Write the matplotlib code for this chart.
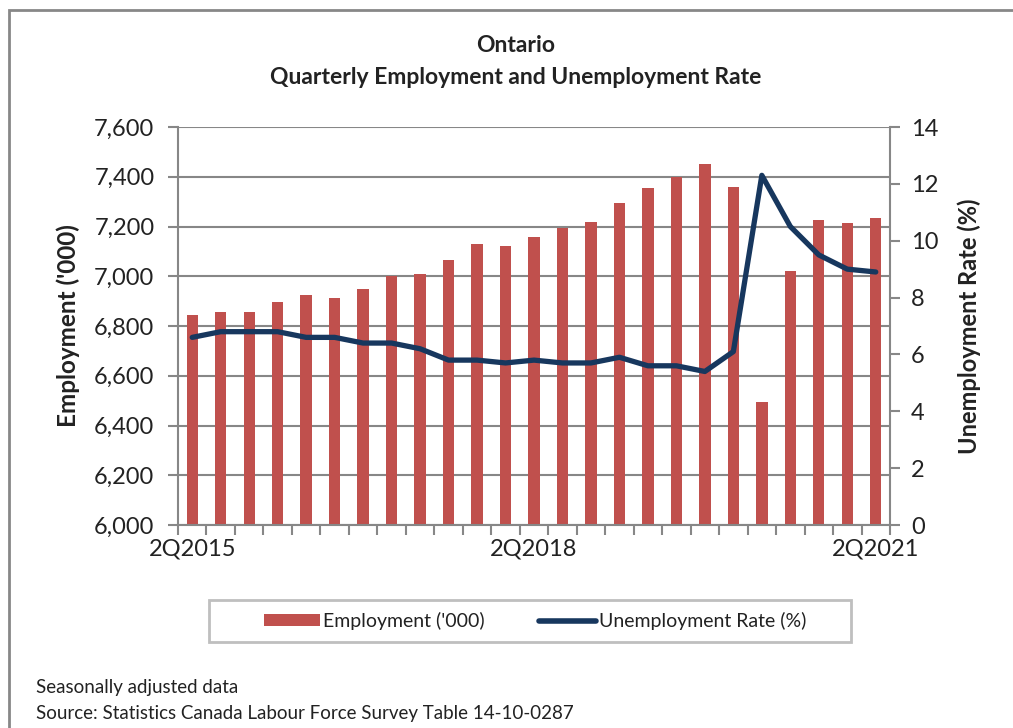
import matplotlib.pyplot as plt
from matplotlib.patches import Rectangle, Patch
from matplotlib.lines import Line2D
from matplotlib.ticker import FuncFormatter, FixedLocator

plt.rcParams["font.family"] = ["Lato", "DejaVu Sans"]

# quarterly series, 2Q2015 .. 2Q2021
quarters = [f"{(q % 4) + 1}Q{2015 + (q + 1) // 4}" for q in range(1, 26)]
employment = [6843, 6858, 6858, 6898, 6924, 6914, 6949, 6999, 7009, 7066,
              7130, 7120, 7157, 7195, 7218, 7293, 7353, 7399, 7450, 7359,
              6494, 7020, 7227, 7213, 7233]
unemp_rate = [6.6, 6.8, 6.8, 6.8, 6.6, 6.6, 6.4, 6.4, 6.2, 5.8,
              5.8, 5.7, 5.8, 5.7, 5.7, 5.9, 5.6, 5.6, 5.4, 6.1,
              12.3, 10.5, 9.5, 9.0, 8.9]
shown_labels = ["2Q2015", "2Q2018", "2Q2021"]

BAR = "#C0504D"
LINE = "#17375E"
GRID = "#878787"
TXT = "#222222"

W, H = 1013, 728
fig = plt.figure(figsize=(W / 100, H / 100), dpi=100)

# chart-area border (runs off the right and bottom edges)
fig.patches.append(Rectangle((9 / W, -0.05), 1.1, 1 - 10 / H + 0.05,
                             transform=fig.transFigure, fill=False,
                             edgecolor=GRID, linewidth=2))

ax = fig.add_axes([178 / W, 1 - 525 / H, (890 - 178) / W, (525 - 127) / H])
x = list(range(len(quarters)))
ax.bar(x, employment, width=0.4, color=BAR, zorder=2)
ax.set_ylim(6000, 7600)
ax.set_xlim(-0.5, len(quarters) - 0.5)
ax.set_yticks(range(6000, 7601, 200))
ax.yaxis.set_major_formatter(FuncFormatter(lambda v, p: f"{int(v):,}"))
ax.grid(axis="y", color=GRID, linewidth=1.5, zorder=0)
ax.set_axisbelow(True)

idx = [quarters.index(q) for q in shown_labels]
ax.set_xticks(idx)
ax.set_xticklabels(shown_labels)
ax.xaxis.set_minor_locator(FixedLocator([i - 0.5 for i in range(len(quarters) + 1)]))
ax.tick_params(axis="x", which="major", length=0, pad=10, labelsize=17, labelcolor=TXT)
ax.tick_params(axis="x", which="minor", length=7, width=1.5, color=GRID)
ax.tick_params(axis="y", length=7, width=1.5, color=GRID, labelsize=17,
               labelcolor=TXT, pad=10)
for s in ["top", "right"]:
    ax.spines[s].set_visible(False)
for s in ["left", "bottom"]:
    ax.spines[s].set_color(GRID)
    ax.spines[s].set_linewidth(1.5)
ax.set_ylabel("Employment ('000)", fontsize=17.5, fontweight="bold", color=TXT,
              labelpad=10)

ax2 = ax.twinx()
ax2.plot(x, unemp_rate, color=LINE, linewidth=3.8, solid_capstyle="round",
         solid_joinstyle="round", zorder=3)
ax2.set_ylim(0, 14)
ax2.set_yticks(range(0, 15, 2))
ax2.tick_params(axis="y", length=7, width=1.5, color=GRID, labelsize=17,
                labelcolor=TXT, pad=8)
for s in ["top", "left", "bottom"]:
    ax2.spines[s].set_visible(False)
ax2.spines["right"].set_color(GRID)
ax2.spines["right"].set_linewidth(1.5)
ax2.set_ylabel("Unemployment Rate (%)", fontsize=17, fontweight="bold", color=TXT,
               labelpad=14)

fig.text(516 / W, 1 - 46 / H, "Ontario", ha="center", va="center",
         fontsize=16.5, fontweight="bold", color=TXT)
fig.text(516 / W, 1 - 78 / H, "Quarterly Employment and Unemployment Rate",
         ha="center", va="center", fontsize=16.5, fontweight="bold", color=TXT)

# legend box
fig.patches.append(Rectangle((209 / W, 1 - 642 / H), (851 - 209) / W, 42 / H,
                             transform=fig.transFigure, fill=False,
                             edgecolor="#BFBFBF", linewidth=2))
handles = [Patch(facecolor=BAR, edgecolor="none"),
           Line2D([], [], color=LINE, linewidth=4, solid_capstyle="round")]
fig.legend(handles, ["Employment ('000)", "Unemployment Rate (%)"],
           loc="center", bbox_to_anchor=(535 / W, 1 - 621 / H), ncol=2,
           frameon=False, fontsize=14, handlelength=2.9, handleheight=0.6,
           handletextpad=0.15, columnspacing=2.8, labelcolor=TXT)

fig.text(36 / W, 1 - 688 / H, "Seasonally adjusted data", ha="left",
         va="center", fontsize=13.5, color=TXT)
fig.text(36 / W, 1 - 713 / H,
         "Source: Statistics Canada Labour Force Survey Table 14-10-0287",
         ha="left", va="center", fontsize=13.5, color=TXT)

fig.savefig("out.png", dpi=100)
